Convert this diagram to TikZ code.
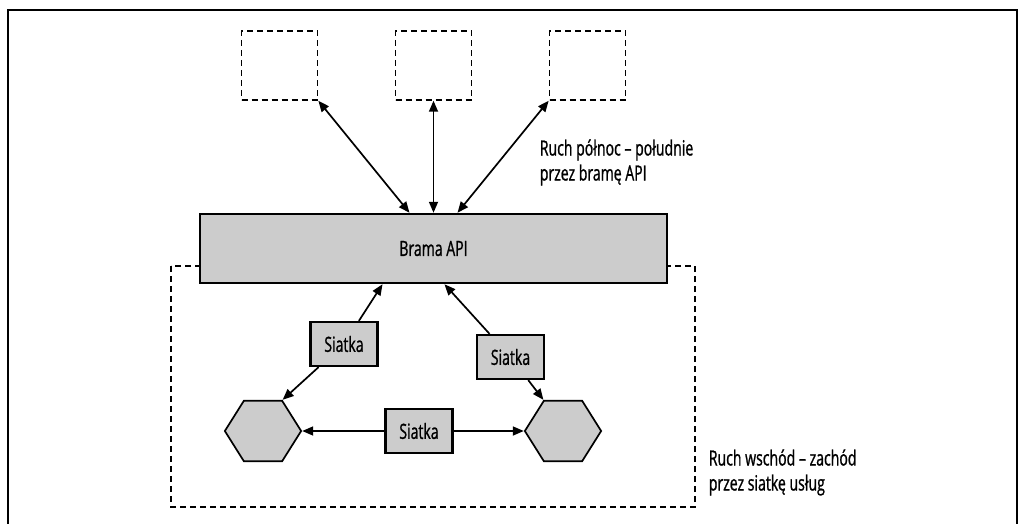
\documentclass[tikz,border=0pt]{standalone}
\usepackage{fontspec}
\setmainfont[FakeStretch=0.67, FakeBold=1]{Open Sans}
\usetikzlibrary{shapes, positioning, arrows.meta}

\begin{document}
\begin{tikzpicture}[x=1pt, y=-1pt, line width=1.7pt, >={Triangle[length=11pt,width=9pt]},
  node distance=154pt, font=\fontsize{21}{25}\selectfont]
\tikzstyle{ghost}=[draw, dash pattern=on 6pt off 4pt, minimum width=76pt, minimum height=69pt]
\tikzstyle{mesh}=[draw, fill=black!20, line width=2.2pt, minimum width=67pt, minimum height=44pt]
\tikzstyle{svc}=[draw, fill=black!20, regular polygon, regular polygon sides=6, minimum size=70pt, inner sep=0pt, xscale=1.09]
\tikzstyle{note}=[align=left, anchor=west, inner sep=0pt]

\useasboundingbox (0,0) rectangle (1025,524);
\draw[line width=2pt] (8,524) |- (1017,10) -- (1017,524);

% east-west zone
\draw[dash pattern=on 6pt off 4pt] (171,266) rectangle (695,507);

\node[draw, fill=black!20, line width=2.5pt, minimum width=467pt, minimum height=69pt] (GW) at (433.5,248.5) {Brama API};
\node[ghost]    (N2)[above=112pt of GW]   {};
\node[ghost]    (N1)[left of=N2]   {};
\node[ghost]    (N3)[right of=N2]  {};

\coordinate (GWa) at ([xshift=-24pt]GW.north);
\coordinate (GWb) at ([xshift=24pt]GW.north);
\coordinate (GWc) at ([xshift=-51pt]GW.south);
\coordinate (GWd) at ([xshift=11pt]GW.south);

\node[mesh]   (M1) at (344,344)   {Siatka};
\node[mesh]   (M2) at (510.5,357) {Siatka};
\node[mesh]   (M3) at (419,431)   {Siatka};
\node[svc]    (H1) at (263,431)   {};
\node[svc]    (H2) at (563,431)   {};

\node[note] (T1) at (539,162.5) {Ruch północ – południe\\przez bramę API};
\node[note] (T2) at (708,472.5) {Ruch wschód – zachód\\przez siatkę usług};

\path[<->]
(GWa) edge     (N1.south east)
(GW.north) edge     (N2.south)
(GWb) edge     (N3.south west);

\path[->]
(M1) edge     (GWc)
(M2) edge     (GWd)
(M1) edge     (H1.60)
(M2) edge     (H2.120)
(M3) edge     (H1.east)
(M3) edge     (H2.west);

\end{tikzpicture}
\end{document}
